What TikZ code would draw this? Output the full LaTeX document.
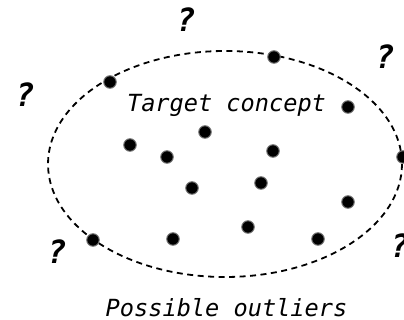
\documentclass[tikz,border=0pt]{standalone}
\usepackage{fontspec}
\setmonofont{DejaVu Sans Mono}
\begin{document}
\begin{tikzpicture}[x=1pt,y=-1pt,
  pt/.style={circle,fill=black,draw=black!55,line width=1pt,inner sep=0pt,minimum size=12.5pt},
  qm/.style={inner sep=0pt,font=\fontsize{32}{32}\selectfont\ttfamily\bfseries\itshape},
  lbl/.style={inner sep=0pt,anchor=base,font=\fontsize{23.6}{24}\selectfont\ttfamily\itshape}]
\useasboundingbox (0,0) rectangle (404,320);
\draw[line width=1.8pt,dash pattern=on 6pt off 4.5pt] (225,164) ellipse [x radius=177, y radius=113];
\node[lbl] (t1) at (226.5,111.5) {Target concept};
\node[lbl] (t2) at (226.5,316.5) {Possible outliers};
\foreach \n/\x/\y in {a/110/82,b/274/57,c/348/107,d/205/132,e/130/145,f/167/157,g/273/151,h/403/157,i/192/188,j/261/183,k/348/202,l/93/240,m/173/239,n/248/227,o/318/239}
  \node[pt] (\n) at (\x,\y) {};
\node[qm] (q1) at (186,20) {?};
\node[qm] (q2) at (385,57) {?};
\node[qm] (q3) at (25,95) {?};
\node[qm] (q4) at (57,252) {?};
\node[qm] (q5) at (400,246) {?};
\end{tikzpicture}
\end{document}
